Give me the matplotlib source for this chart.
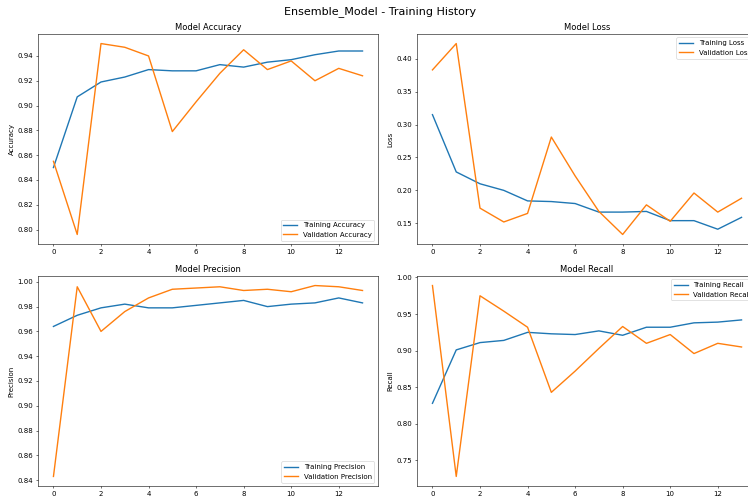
import numpy as np
import matplotlib
matplotlib.use("Agg")
import matplotlib.pyplot as plt

# per-epoch history of the ensemble model
epochs = np.arange(14)

train_acc = [0.850, 0.907, 0.919, 0.923, 0.929, 0.928, 0.928, 0.933, 0.931, 0.935, 0.937, 0.941, 0.944, 0.944]
val_acc = [0.855, 0.796, 0.950, 0.947, 0.940, 0.879, 0.903, 0.926, 0.945, 0.929, 0.936, 0.920, 0.930, 0.924]

train_loss = [0.315, 0.228, 0.210, 0.200, 0.184, 0.183, 0.180, 0.167, 0.167, 0.168, 0.154, 0.154, 0.141, 0.159]
val_loss = [0.383, 0.423, 0.173, 0.152, 0.165, 0.281, 0.222, 0.168, 0.133, 0.178, 0.153, 0.196, 0.167, 0.188]

train_prec = [0.964, 0.973, 0.979, 0.982, 0.979, 0.979, 0.981, 0.983, 0.985, 0.980, 0.982, 0.983, 0.987, 0.983]
val_prec = [0.843, 0.996, 0.960, 0.976, 0.987, 0.994, 0.995, 0.996, 0.993, 0.994, 0.992, 0.997, 0.996, 0.993]

train_rec = [0.828, 0.901, 0.911, 0.914, 0.925, 0.923, 0.922, 0.927, 0.921, 0.932, 0.932, 0.938, 0.939, 0.942]
val_rec = [0.989, 0.728, 0.975, 0.954, 0.932, 0.843, 0.872, 0.903, 0.933, 0.910, 0.922, 0.896, 0.910, 0.905]

panels = [
    ("Accuracy", train_acc, val_acc, "lower right"),
    ("Loss", train_loss, val_loss, "upper right"),
    ("Precision", train_prec, val_prec, "lower right"),
    ("Recall", train_rec, val_rec, "upper right"),
]

fig = plt.figure(figsize=(14.96, 9.96), dpi=50)
fig.suptitle("Ensemble_Model - Training History", fontsize=16, x=0.508, y=0.976, va="center")

# axes boxes as figure fractions: [left, bottom, width, height]
boxes = [
    [0.0508, 0.510, 0.4545, 0.4217],
    [0.5575, 0.510, 0.4545, 0.4217],
    [0.0508, 0.0241, 0.4545, 0.4217],
    [0.5575, 0.0241, 0.4545, 0.4217],
]

for (name, tr, va, loc), box in zip(panels, boxes):
    ax = fig.add_axes(box)
    ax.plot(epochs, tr, label=f"Training {name}", lw=2)
    ax.plot(epochs, va, label=f"Validation {name}", lw=2)
    ax.set_title(f"Model {name}", fontsize=12)
    ax.set_ylabel(name)
    ax.legend(loc=loc)

plt.savefig("out.png", dpi=50)
